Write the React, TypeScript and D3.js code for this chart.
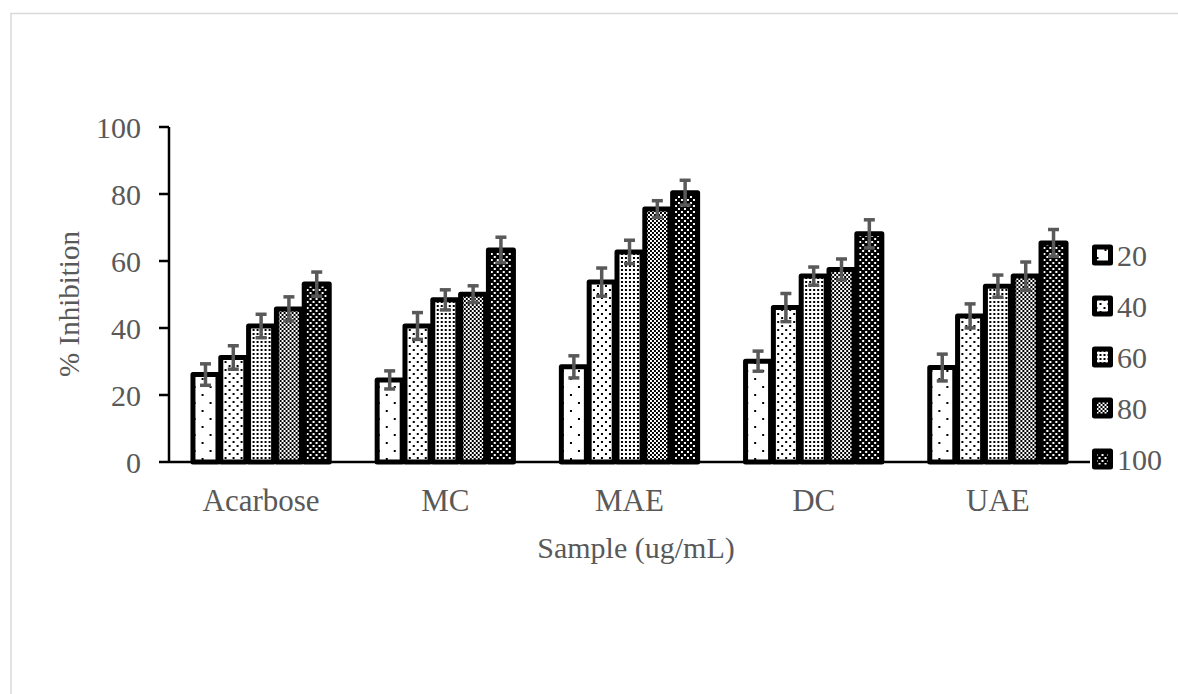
import React from "react";
import * as d3 from "d3";

// data
const categories = ["Acarbose", "MC", "MAE", "DC", "UAE"];
const series = ["20", "40", "60", "80", "100"];
const values = [
  [26.1, 31.2, 40.6, 45.7, 53.1],
  [24.5, 40.6, 48.4, 50.1, 63.3],
  [28.4, 53.7, 62.7, 75.5, 80.4],
  [30.1, 46.1, 55.5, 57.5, 68.1],
  [28.2, 43.6, 52.5, 55.5, 65.4],
];
const errors = [
  [3.2, 3.5, 3.5, 3.6, 3.6],
  [2.7, 4.0, 3.0, 2.5, 3.8],
  [3.3, 4.2, 3.5, 2.5, 3.7],
  [3.0, 4.2, 2.7, 3.1, 4.2],
  [4.0, 3.6, 3.3, 4.2, 4.0],
];
const yTicks = [0, 20, 40, 60, 80, 100];

const W = 1178;
const H = 694;
const left = 169;
const right = 1090;
const top = 127;
const bottom = 462;
const gray = "#595959";
const font = "'Liberation Serif', 'Times New Roman', serif";

function Patterns() {
  return (
    <defs>
      <pattern id="p20" width={16} height={16} patternUnits="userSpaceOnUse">
        <rect width={16} height={16} fill="#fff" />
        <rect x={2} y={2} width={2} height={2} fill="#000" />
        <rect x={10} y={10} width={2} height={2} fill="#000" />
      </pattern>
      <pattern id="p40" width={8} height={8} patternUnits="userSpaceOnUse">
        <rect width={8} height={8} fill="#fff" />
        <rect x={1} y={1} width={2} height={2} fill="#000" />
        <rect x={5} y={5} width={2} height={2} fill="#000" />
      </pattern>
      <pattern id="p60" width={4} height={4} patternUnits="userSpaceOnUse">
        <rect width={4} height={4} fill="#fff" />
        <rect x={1} y={1} width={2} height={2} fill="#000" />
      </pattern>
      <pattern id="p80" width={4} height={4} patternUnits="userSpaceOnUse">
        <rect width={4} height={4} fill="#fff" />
        <rect x={0} y={0} width={2} height={2} fill="#000" />
        <rect x={2} y={2} width={2} height={2} fill="#000" />
      </pattern>
      <pattern id="p100" width={6} height={6} patternUnits="userSpaceOnUse">
        <rect width={6} height={6} fill="#000" />
        <rect x={1} y={1} width={2} height={2} fill="#fff" />
        <rect x={4} y={4} width={2} height={2} fill="#fff" />
      </pattern>
    </defs>
  );
}

export default function App() {
  const x = d3
    .scaleBand<string>()
    .domain(categories)
    .range([left, right])
    .paddingInner(0.245)
    .paddingOuter(0.1225);
  const xs = d3.scaleBand<string>().domain(series).range([0, x.bandwidth()]);
  const y = d3.scaleLinear().domain([0, 100]).range([bottom, top]);

  const legendY = d3.scalePoint<string>().domain(series).range([255, 459]);

  return (
    <svg
      width={W}
      height={H}
      style={{ position: "absolute", left: 0, top: 0, background: "#fff" }}
    >
      <Patterns />
      <rect x={11} y={13.5} width={1200} height={720} fill="#fff" stroke="#d9d9d9" strokeWidth={1.5} />

      {/* bars */}
      {categories.map((c, i) => (
        <g key={c} transform={`translate(${x(c)},0)`}>
          {series.map((s, j) => (
            <rect
              key={s}
              x={xs(s)! + 1.4}
              y={y(values[i][j])}
              width={xs.bandwidth() - 2.8}
              height={bottom - y(values[i][j])}
              fill={`url(#p${s})`}
              stroke="#000"
              strokeWidth={5}
              strokeLinejoin="round"
            />
          ))}
        </g>
      ))}

      {/* error bars */}
      {categories.map((c, i) => (
        <g key={c} transform={`translate(${x(c)},0)`} stroke={gray} strokeWidth={3.5}>
          {series.map((s, j) => {
            const cx = xs(s)! + xs.bandwidth() / 2;
            const hi = y(values[i][j] + errors[i][j]);
            const lo = y(values[i][j] - errors[i][j]);
            return (
              <g key={s}>
                <line x1={cx} x2={cx} y1={hi} y2={lo} />
                <line x1={cx - 5.5} x2={cx + 5.5} y1={hi} y2={hi} />
                <line x1={cx - 5.5} x2={cx + 5.5} y1={lo} y2={lo} />
              </g>
            );
          })}
        </g>
      ))}

      {/* axes */}
      <line x1={left} x2={right} y1={bottom} y2={bottom} stroke="#000" strokeWidth={2.5} />
      <line x1={left} x2={left} y1={top} y2={bottom + 1} stroke="#000" strokeWidth={2.5} />
      {yTicks.map((t) => (
        <g key={t}>
          <line x1={left - 10} x2={left} y1={y(t)} y2={y(t)} stroke="#000" strokeWidth={2.5} />
          <text
            x={left - 28}
            y={y(t)}
            dy="0.35em"
            textAnchor="end"
            fontFamily={font}
            fontSize={30}
            fill={gray}
          >
            {t}
          </text>
        </g>
      ))}
      {categories.map((c) => (
        <text
          key={c}
          x={x(c)! + x.bandwidth() / 2}
          y={511}
          textAnchor="middle"
          fontFamily={font}
          fontSize={31}
          fill={gray}
        >
          {c}
        </text>
      ))}
      <text x={636} y={558} textAnchor="middle" fontFamily={font} fontSize={30} fill={gray}>
        Sample (ug/mL)
      </text>
      <text
        transform="translate(79,304) rotate(-90)"
        textAnchor="middle"
        fontFamily={font}
        fontSize={29}
        fill={gray}
      >
        % Inhibition
      </text>

      {/* legend */}
      {series.map((s) => (
        <g key={s} transform={`translate(1094.5,${legendY(s)})`}>
          <rect
            x={0}
            y={-8}
            width={16}
            height={16}
            fill={`url(#p${s})`}
            stroke="#000"
            strokeWidth={5}
            strokeLinejoin="round"
          />
          <text x={22.5} y={0} dy="0.35em" fontFamily={font} fontSize={30} fill={gray}>
            {s}
          </text>
        </g>
      ))}
    </svg>
  );
}
